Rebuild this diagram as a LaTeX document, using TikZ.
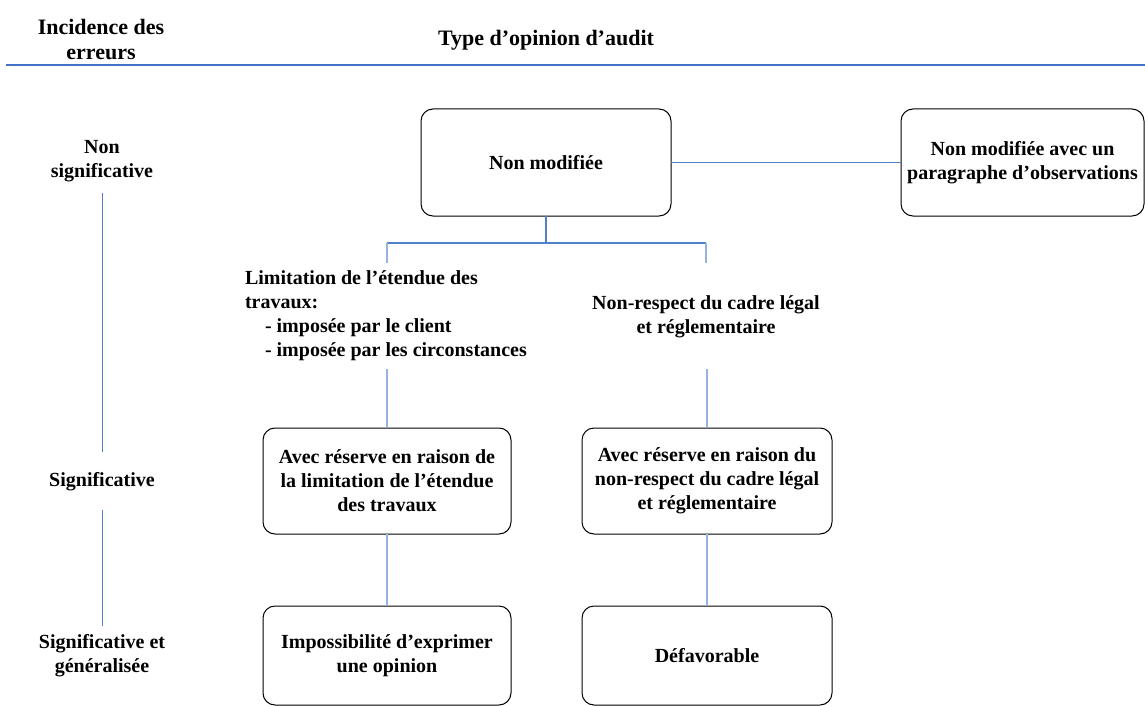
\documentclass[tikz,border=0pt]{standalone}
\usepackage{fontspec}
\setmainfont{Liberation Serif}
\definecolor{rulecol}{RGB}{68,114,196}
\definecolor{linkcol}{RGB}{79,129,200}
\definecolor{dropcol}{RGB}{150,178,222}
\begin{document}
\begin{tikzpicture}[x=1pt,y=-1pt,
  every node/.style={inner sep=0pt,outer sep=0pt,font=\fontsize{20}{24}\selectfont\bfseries},
  txt/.style={align=center},
  hdrbig/.style={align=center,font=\fontsize{22}{25}\selectfont\bfseries},
  box/.style={draw=black,line width=1pt,rounded corners=12pt,align=center,
    minimum width=248pt,minimum height=106pt},
  rulestyle/.style={draw=rulecol,line width=2.8pt},
  link/.style={draw=linkcol,line width=1.1pt},
  drop/.style={draw=dropcol,line width=1.6pt},
  axis/.style={draw=linkcol,line width=1pt}]
\useasboundingbox (0,0) rectangle (1145,706);

% header
\node[hdrbig] (inc) at (101,40) {Incidence des\\erreurs};
\node[hdrbig] (type) at (546,40) {Type d’opinion d’audit};
\coordinate (ruleL) at (6,65);
\coordinate (ruleR) at (1145,65);
\draw[rulestyle] (ruleL) -- (ruleR);

% scale of error impact
\node[txt] (ns) at (102,161) {Non\\significative};
\node[txt] (sig) at (102,482) {Significative};
\node[txt] (sg) at (102,656) {Significative et\\généralisée};
\draw[axis,shorten <=11pt,shorten >=21pt] (ns) -- (sig);
\draw[axis,shorten <=19pt,shorten >=9pt] (sig) -- (sg);

% opinion boxes
\node[box,minimum width=250pt,minimum height=107pt] (nm) at (546,162.5) {Non modifiée};
\node[box,minimum width=243pt,minimum height=107pt] (nmo) at (1022.5,162.5)
  {Non modifiée avec un\\paragraphe d’observations};
\node[box] (ar1) at (387,481) {Avec réserve en raison de\\la limitation de l’étendue\\des travaux};
\node[box,minimum width=250pt] (ar2) at (707,481) {Avec réserve en raison du\\non-respect du cadre légal\\et réglementaire};
\node[box,minimum height=99pt] (imp) at (387,655.5) {Impossibilité d’exprimer\\une opinion};
\node[box,minimum width=250pt,minimum height=99pt] (def) at (707,655.5) {Défavorable};

% causes
\node[align=left,anchor=north west] (lim) at (245,271)
  {Limitation de l’étendue des\\travaux:\\\hspace*{20pt}- imposée par le client\\\hspace*{20pt}- imposée par les circonstances};
\node[txt] (nr) at (706,317) {Non-respect du cadre légal\\et réglementaire};

% connectors
\coordinate (tl) at (387,243);
\coordinate (tr) at (706,243);
\coordinate (tld) at (387,263);
\coordinate (trd) at (706,263);
\coordinate (tlu) at (387,369);
\coordinate (tru) at (707,369);
\draw[link] (nm.south) -- (nm.south |- tl);
\draw[link] (tl) -- (tr);
\draw[drop] (tl) -- (tld);
\draw[drop] (tr) -- (trd);
\draw[link] (nm) -- (nmo);
\draw[drop] (tlu) -- (ar1.north);
\draw[drop] (tru) -- (ar2.north);
\draw[drop] (ar1) -- (imp);
\draw[drop] (ar2) -- (def);
\end{tikzpicture}
\end{document}
